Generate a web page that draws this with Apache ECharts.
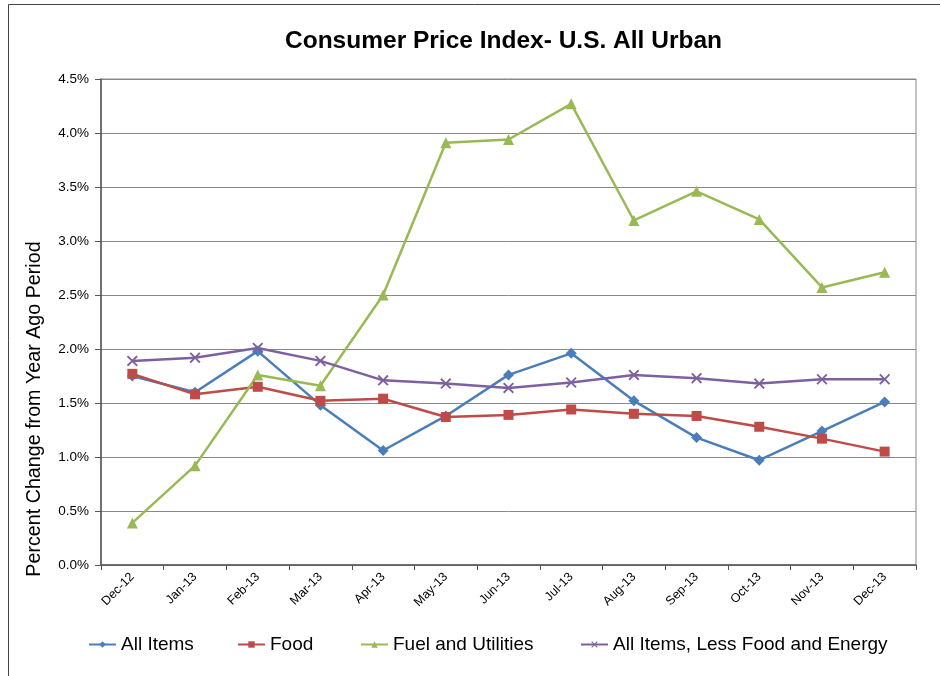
<!DOCTYPE html>
<html><head><meta charset="utf-8">
<script src="https://cdn.jsdelivr.net/npm/echarts@6/dist/echarts.min.js"></script>
<style>html,body{margin:0;padding:0;background:#fff}#c{width:940px;height:676px}</style>
</head><body><div id="c"></div>
<script>
const categories = ['Dec-12','Jan-13','Feb-13','Mar-13','Apr-13','May-13','Jun-13','Jul-13','Aug-13','Sep-13','Oct-13','Nov-13','Dec-13'];
const allItems = [1.75,1.60,1.98,1.48,1.06,1.38,1.76,1.96,1.52,1.18,0.97,1.24,1.51];
const food = [1.77,1.58,1.65,1.52,1.54,1.37,1.39,1.44,1.40,1.38,1.28,1.17,1.05];
const fuel = [0.39,0.92,1.76,1.66,2.50,3.91,3.94,4.27,3.19,3.46,3.20,2.57,2.71];
const core = [1.89,1.92,2.01,1.89,1.71,1.68,1.64,1.69,1.76,1.73,1.68,1.72,1.72];
const yTicks = ['0.0%','0.5%','1.0%','1.5%','2.0%','2.5%','3.0%','3.5%','4.0%','4.5%'];

const FONT = 'Liberation Sans';
const xPath = 'path://M0,1.2L1.2,0L5,3.8L8.8,0L10,1.2L6.2,5L10,8.8L8.8,10L5,6.2L1.2,10L0,8.8L3.8,5Z';
const seriesDefs = [
  {name:'All Items', data:allItems, color:'#4A7EBB', symbol:'diamond', size:11, legendLeft:88},
  {name:'Food', data:food, color:'#BE4B48', symbol:'rect', size:10, legendLeft:237},
  {name:'Fuel and Utilities', data:fuel, color:'#98B954', symbol:'triangle', size:11, legendLeft:360},
  {name:'All Items, Less Food and Energy', data:core, color:'#7D60A0', symbol:xPath, size:11, legendLeft:580}
];

const chart = echarts.init(document.getElementById('c'), null, {renderer:'canvas'});
chart.setOption({
  animation:false,
  backgroundColor:'#fff',
  textStyle:{fontFamily:FONT},
  title:{text:'Consumer Price Index- U.S. All Urban', left:285, top:29, padding:0,
    textStyle:{fontFamily:FONT, fontSize:24.5, fontWeight:'bold', color:'#000'}},
  legend: seriesDefs.map(s=>({
    data:[s.name], left:s.legendLeft, top:635, padding:0, itemWidth:27, itemHeight:8, itemGap:4,
    textStyle:{fontFamily:FONT, fontSize:19, color:'#000'}
  })),
  grid:{left:101, right:24, top:79, bottom:111, show:true, borderColor:'#888', borderWidth:1},
  xAxis:{type:'category', data:categories, boundaryGap:true,
    axisLine:{lineStyle:{color:'#555', width:1.5}},
    axisTick:{show:true, length:5, lineStyle:{color:'#555'}},
    axisLabel:{rotate:45, fontSize:12.5, color:'#000', fontFamily:FONT, margin:10}},
  yAxis:{type:'value', min:0, max:4.5, interval:0.5,
    axisLine:{show:true, lineStyle:{color:'#555', width:1.5}},
    axisTick:{show:true, length:6, lineStyle:{color:'#555'}},
    splitLine:{lineStyle:{color:'#888', width:1}},
    axisLabel:{fontSize:13.5, color:'#000', fontFamily:FONT, margin:12,
      formatter:(v)=>yTicks[Math.round(v*2)]}},
  graphic:[
    {type:'rect', shape:{x:8.5, y:4.5, width:1000, height:1000}, style:{fill:'none', stroke:'#444', lineWidth:1}, silent:true},
    {type:'text', x:35, y:409, rotation:Math.PI/2,
      style:{text:'Percent Change from Year Ago Period', fontFamily:FONT, fontSize:19.7, fill:'#000', align:'center', verticalAlign:'middle'}}
  ],
  series: seriesDefs.map(s=>({
    name:s.name, type:'line', data:s.data, symbol:s.symbol, symbolSize:s.size,
    lineStyle:{color:s.color, width:2.5}, itemStyle:{color:s.color}, color:s.color
  }))
});
</script></body></html>
